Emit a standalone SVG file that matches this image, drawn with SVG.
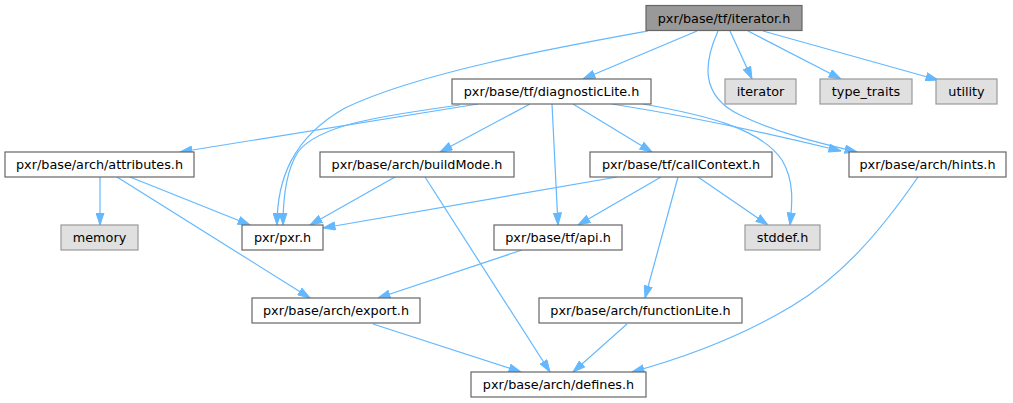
<svg xmlns="http://www.w3.org/2000/svg" width="1013" height="403" viewBox="0 0 1013 403">
<style>
.n rect{fill:#ffffff;stroke:#666666;stroke-width:1.2}
.s rect{fill:#e0e0e0;stroke:#999999;stroke-width:1.2}
.r rect{fill:#999999;stroke:#666666;stroke-width:1.2}
text{font-family:"DejaVu Sans","Liberation Sans",sans-serif;font-size:12.8px;fill:#000000;text-anchor:middle}
#edges path{fill:none;stroke:#63b8ff;stroke-width:1.2;marker-end:url(#ah)}
</style>
<defs>
<marker id="ah" viewBox="0 0 13 9" refX="12.5" refY="4.5" markerWidth="13" markerHeight="9" markerUnits="userSpaceOnUse" orient="auto">
<path d="M0.5,0.5 L12.5,4.5 L0.5,8.5 z" fill="#63b8ff" stroke="#63b8ff" stroke-width="1"/>
</marker>
</defs>
<rect width="1013" height="403" fill="#ffffff"/>
<g id="edges">
<path d="M648,31 C560,47 420,72 345,108 C292,138 277,180 277,225"/>
<path d="M697,31 L583,79"/>
<path d="M718,31 C705,60 698,95 740,115 C775,132 815,142 857,152"/>
<path d="M730,31 L752,79"/>
<path d="M748,31 L841,79"/>
<path d="M763,31 L938,80"/>
<path d="M478,104 L180,152"/>
<path d="M460,105 C380,116 318,125 298,152 C285,172 283,200 283,225"/>
<path d="M530,104 L440,152"/>
<path d="M552,104 L558,225"/>
<path d="M573,104 L652,152"/>
<path d="M612,104 C700,118 780,136 841,151"/>
<path d="M643,104 C705,115 760,128 782,160 C795,182 792,205 790,225"/>
<path d="M617,177 L323,228"/>
<path d="M661,177 L578,225"/>
<path d="M678,177 L645,298"/>
<path d="M698,177 L768,225"/>
<path d="M395,177 L310,225"/>
<path d="M425,177 L550,372"/>
<path d="M100,177 L100,225"/>
<path d="M130,177 L250,225"/>
<path d="M117,177 L310,298"/>
<path d="M522,250 L378,298"/>
<path d="M373,324 L521,372"/>
<path d="M627,324 L573,372"/>
<path d="M918,177 C880,232 842,276 792,306 C742,336 690,356 632,372"/>
</g>
<g id="node_iterator_h" class="r"><rect x="646" y="5.5" width="156" height="25"/><text x="724" y="22.5">pxr/base/tf/iterator.h</text></g>
<g id="node_diagnosticLite" class="n"><rect x="452" y="79" width="199" height="25"/><text x="551.5" y="96">pxr/base/tf/diagnosticLite.h</text></g>
<g id="node_iterator" class="s"><rect x="725" y="79" width="71" height="25"/><text x="760.5" y="96">iterator</text></g>
<g id="node_type_traits" class="s"><rect x="820" y="79" width="92" height="25"/><text x="866" y="96">type_traits</text></g>
<g id="node_utility" class="s"><rect x="936" y="79" width="61" height="25"/><text x="966.5" y="96">utility</text></g>
<g id="node_attributes" class="n"><rect x="5" y="152" width="189" height="25"/><text x="99.5" y="169">pxr/base/arch/attributes.h</text></g>
<g id="node_buildMode" class="n"><rect x="320" y="152" width="194" height="25"/><text x="417" y="169">pxr/base/arch/buildMode.h</text></g>
<g id="node_callContext" class="n"><rect x="590" y="152" width="182" height="25"/><text x="681" y="169">pxr/base/tf/callContext.h</text></g>
<g id="node_hints" class="n"><rect x="849" y="152" width="157" height="25"/><text x="927.5" y="169">pxr/base/arch/hints.h</text></g>
<g id="node_memory" class="s"><rect x="61" y="225" width="77" height="25"/><text x="99.5" y="242">memory</text></g>
<g id="node_pxr" class="n"><rect x="242" y="225" width="81" height="25"/><text x="282.5" y="242">pxr/pxr.h</text></g>
<g id="node_api" class="n"><rect x="494" y="225" width="128" height="25"/><text x="558" y="242">pxr/base/tf/api.h</text></g>
<g id="node_stddef" class="s"><rect x="745" y="225" width="75" height="25"/><text x="782.5" y="242">stddef.h</text></g>
<g id="node_export" class="n"><rect x="252" y="298" width="168" height="25"/><text x="336" y="315">pxr/base/arch/export.h</text></g>
<g id="node_functionLite" class="n"><rect x="539" y="298" width="203" height="25"/><text x="640.5" y="315">pxr/base/arch/functionLite.h</text></g>
<g id="node_defines" class="n"><rect x="471" y="372" width="175" height="25"/><text x="558.5" y="389">pxr/base/arch/defines.h</text></g>
</svg>
